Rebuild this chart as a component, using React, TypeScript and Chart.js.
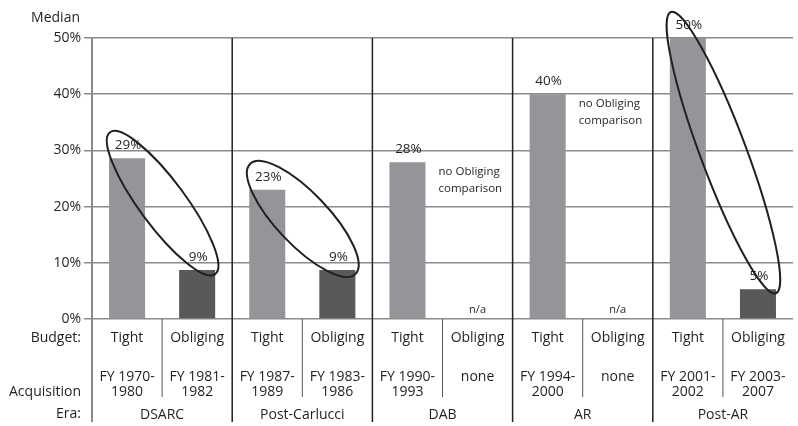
import React, { useEffect, useRef } from "react";
import { Chart, registerables } from "chart.js";

Chart.register(...registerables);

const eras = ["DSARC", "Post-Carlucci", "DAB", "AR", "Post-AR"];
const budgets = ["Tight", "Obliging", "Tight", "Obliging", "Tight", "Obliging", "Tight", "Obliging", "Tight", "Obliging"];
const fyLine1 = ["FY 1970-", "FY 1981-", "FY 1987-", "FY 1983-", "FY 1990-", "none", "FY 1994-", "none", "FY 2001-", "FY 2003-"];
const fyLine2 = ["1980", "1982", "1989", "1986", "1993", "", "2000", "", "2002", "2007"];
const medianValues = [28.6, 8.7, 23, 8.7, 27.9, null, 40, null, 50, 5.3];
const valueLabels = ["29%", "9%", "23%", "9%", "28%", "n/a", "40%", "n/a", "50%", "5%"];
const noteLines = ["no Obliging", "comparison"];
const noteAfterTight = [4, 6];
const ellipsePairs = [[0, 1], [2, 3], [8, 9]];
const ellipseMinor = [23, 26, 23];
const yTicks = [0, 10, 20, 30, 40, 50];

const FONT = "'Open Sans', 'Noto Sans', sans-serif";
const TEXT = "#231f20";
const TIGHT = "#939598";
const OBLIGING = "#58595b";

const overlay = {
  id: "overlay",
  afterDatasetsDraw(chart: any) {
    const ctx = chart.ctx;
    const x = chart.scales.x;
    const y = chart.scales.y;
    const area = chart.chartArea;
    ctx.save();
    ctx.fillStyle = TEXT;
    ctx.textAlign = "center";
    ctx.textBaseline = "middle";
    medianValues.forEach((v, i) => {
      const px = x.getPixelForValue(i);
      if (v === null) {
        ctx.font = `11px ${FONT}`;
        ctx.fillText(valueLabels[i], px, area.bottom - 9);
      } else {
        ctx.font = `13.5px ${FONT}`;
        ctx.fillText(valueLabels[i], px + 1, y.getPixelForValue(v) - 13);
      }
    });
    // notes
    ctx.font = `11.5px ${FONT}`;
    ctx.textAlign = "left";
    noteAfterTight.forEach((ti) => {
      const px = x.getPixelForValue(ti + 1) - 39;
      const top = y.getPixelForValue(medianValues[ti] as number);
      noteLines.forEach((t, k) => ctx.fillText(t, px, top + 10 + k * 17));
    });
    // ellipses
    ctx.strokeStyle = TEXT;
    ctx.lineWidth = 2;
    ellipsePairs.forEach(([a, b], k) => {
      const x1 = x.getPixelForValue(a) - 17;
      const y1 = y.getPixelForValue(medianValues[a] as number) - 26;
      const x2 = x.getPixelForValue(b) + 18;
      const y2 = y.getPixelForValue(medianValues[b] as number) + 4;
      const cx = (x1 + x2) / 2;
      const cy = (y1 + y2) / 2;
      const rx = Math.hypot(x2 - x1, y2 - y1) / 2;
      const rot = Math.atan2(y2 - y1, x2 - x1);
      ctx.beginPath();
      ctx.ellipse(cx, cy, rx, ellipseMinor[k], rot, 0, Math.PI * 2);
      ctx.stroke();
    });
    ctx.restore();
  },
  afterDraw(chart: any) {
    const ctx = chart.ctx;
    const x = chart.scales.x;
    const area = chart.chartArea;
    const H = chart.height;
    ctx.save();
    // left axis line
    ctx.strokeStyle = "#8a8a8a";
    ctx.lineWidth = 2;
    ctx.beginPath();
    ctx.moveTo(area.left, area.top);
    ctx.lineTo(area.left, H - 4);
    ctx.stroke();
    // group separators
    ctx.strokeStyle = "#231f20";
    ctx.lineWidth = 1.5;
    for (let g = 1; g < eras.length; g++) {
      const bx = (x.getPixelForValue(g * 2 - 1) + x.getPixelForValue(g * 2)) / 2;
      ctx.beginPath();
      ctx.moveTo(bx, area.top);
      ctx.lineTo(bx, H - 4);
      ctx.stroke();
    }
    // within-group separators
    ctx.strokeStyle = "#555";
    ctx.lineWidth = 1;
    for (let g = 0; g < eras.length; g++) {
      const bx = (x.getPixelForValue(g * 2) + x.getPixelForValue(g * 2 + 1)) / 2;
      ctx.beginPath();
      ctx.moveTo(bx, area.bottom);
      ctx.lineTo(bx, area.bottom + 78);
      ctx.stroke();
    }
    // texts
    ctx.fillStyle = TEXT;
    ctx.font = `14px ${FONT}`;
    ctx.textBaseline = "middle";
    ctx.textAlign = "right";
    ctx.fillText("Median", 80, 18);
    ctx.fillText("Budget:", 81, area.bottom + 19);
    ctx.fillText("Acquisition", 81, area.bottom + 73);
    ctx.fillText("Era:", 81, area.bottom + 95);
    ctx.textAlign = "center";
    budgets.forEach((b, i) => {
      const px = x.getPixelForValue(i);
      ctx.fillText(b, px, area.bottom + 19);
      ctx.fillText(fyLine1[i], px, area.bottom + 58);
      if (fyLine2[i]) ctx.fillText(fyLine2[i], px, area.bottom + 73);
    });
    eras.forEach((e, g) => {
      const px = (x.getPixelForValue(g * 2) + x.getPixelForValue(g * 2 + 1)) / 2;
      ctx.fillText(e, px, area.bottom + 96);
    });
    ctx.restore();
  },
};

export default function App() {
  const ref = useRef<HTMLCanvasElement>(null);
  useEffect(() => {
    if (!ref.current) return;
    Chart.defaults.font.family = FONT;
    const chart = new Chart(ref.current, {
      type: "bar",
      data: {
        labels: budgets,
        datasets: [
          {
            data: medianValues as any,
            backgroundColor: budgets.map((b) => (b === "Tight" ? TIGHT : OBLIGING)),
            borderWidth: 0,
            categoryPercentage: 1,
            barPercentage: 0.514,
          },
        ],
      },
      options: {
        responsive: false,
        animation: false,
        layout: { padding: { top: 38, right: 5, bottom: 107, left: 0 } },
        plugins: { legend: { display: false }, tooltip: { enabled: false } },
        scales: {
          x: { display: false },
          y: {
            min: 0,
            max: 50,
            afterFit: (s: any) => {
              s.width = 92;
            },
            afterBuildTicks: (s: any) => {
              s.ticks = yTicks.map((v) => ({ value: v }));
            },
            ticks: {
              color: TEXT,
              font: { size: 14, family: FONT },
              padding: 3,
              callback: (v: any) => v + "%",
            },
            grid: { color: "#8a8a8a", lineWidth: 1.5, tickLength: 8 },
            border: { display: false },
          },
        },
      },
      plugins: [overlay],
    });
    return () => chart.destroy();
  }, []);
  return (
    <div style={{ position: "fixed", left: 0, top: 0, width: 798, height: 426, background: "#fff" }}>
      <canvas ref={ref} width={798} height={426} style={{ display: "block" }} />
    </div>
  );
}
